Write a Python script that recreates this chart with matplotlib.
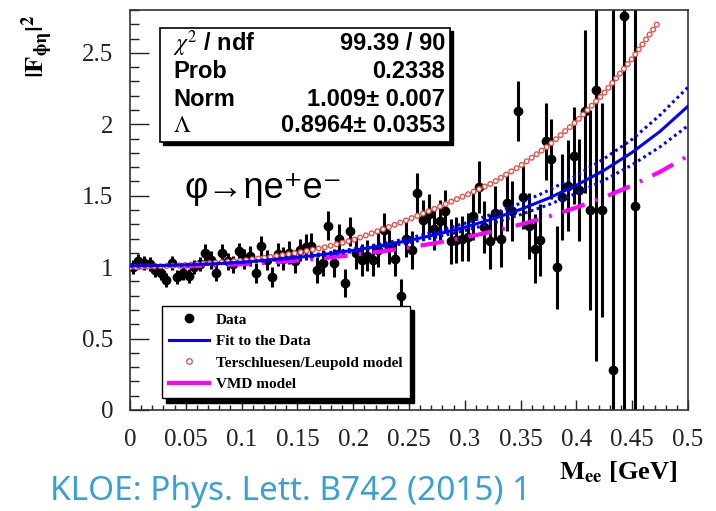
import numpy as np
import matplotlib
matplotlib.use('Agg')
import matplotlib.pyplot as plt
from matplotlib.patches import Rectangle
from matplotlib.lines import Line2D
from matplotlib.ticker import MultipleLocator, FormatStrFormatter

plt.rcParams['mathtext.fontset'] = 'stix'
plt.rcParams['lines.scale_dashes'] = False

# |F_phi-eta|^2 per 5 MeV bin of M_ee (0 - 0.46 GeV), nan = no entry
bin_width = 0.005
ff_data = [1.00, 1.04, 1.03, 1.02, 0.98, 0.96, 0.91, 1.03, 0.93, 0.96,
           0.94, 1.00, 1.02, 1.10, 1.05, 0.96, 1.10, 1.04, 1.02, 1.11,
           1.06, 1.08, 0.96, 1.15, 1.05, 0.93, 1.09, 1.06, 1.10, 1.04,
           1.12, 1.14, 1.15, 0.98, 1.03, 1.29, 1.03, 1.20, 0.89, 1.25,
           1.10, 1.05, 1.08, 1.05, 1.12, 1.26, 1.14, 1.06, 0.80, 1.20,
           1.12, 1.52, 1.33, 1.37, 1.27, 1.32, 1.39, 1.18, 1.19, 1.20,
           1.21, 1.36, 1.56, 1.28, 1.18, 1.38, 1.20, 1.45, 1.39, 2.09,
           1.49, 1.29, 1.13, 1.19, 1.88, 1.76, 1.00, 1.49, 1.57, 1.78,
           1.54, 2.09, 1.40, 2.24, 1.40, np.nan, 0.28, np.nan, 2.76, np.nan,
           1.43, np.nan]
ff_err = [0.05, 0.05, 0.05, 0.05, 0.05, 0.05, 0.05, 0.05, 0.05, 0.05,
          0.05, 0.05, 0.05, 0.06, 0.06, 0.06, 0.06, 0.06, 0.06, 0.06,
          0.07, 0.07, 0.07, 0.07, 0.07, 0.07, 0.08, 0.08, 0.08, 0.08,
          0.08, 0.09, 0.09, 0.09, 0.09, 0.10, 0.10, 0.10, 0.10, 0.10,
          0.11, 0.11, 0.11, 0.11, 0.12, 0.12, 0.12, 0.12, 0.12, 0.13,
          0.13, 0.14, 0.14, 0.14, 0.15, 0.15, 0.15, 0.16, 0.16, 0.16,
          0.17, 0.17, 0.18, 0.18, 0.19, 0.19, 0.20, 0.20, 0.21, 0.21,
          0.22, 0.23, 0.24, 0.25, 0.27, 0.28, 0.29, 0.30, 0.32, 0.34,
          0.36, 0.57, 0.70, 1.90, 0.75, np.nan, 2.60, np.nan, 3.00, np.nan,
          2.00, np.nan]
mee = (np.arange(len(ff_data)) + 0.5) * bin_width

# curves evaluated every 25 MeV
curve_mee = [0.0, 0.025, 0.05, 0.075, 0.1, 0.125, 0.15, 0.175, 0.2, 0.225, 0.25,
             0.275, 0.3, 0.325, 0.35, 0.375, 0.4, 0.425, 0.45, 0.475, 0.5]
fit_ff = [1.009, 1.0106, 1.0153, 1.0233, 1.0346, 1.0494, 1.0680, 1.0905, 1.1175, 1.1493,
          1.1864, 1.2295, 1.2796, 1.3375, 1.4046, 1.4825, 1.5731, 1.6790, 1.8035, 1.9507,
          2.1263]
fit_ff_up = [1.009, 1.0107, 1.0158, 1.0245, 1.0368, 1.0529, 1.0731, 1.0978, 1.1273, 1.1623,
             1.2033, 1.2512, 1.3070, 1.3721, 1.4479, 1.5366, 1.6400, 1.7600, 1.8950, 2.0650,
             2.2600]
fit_ff_dn = [1.009, 1.0105, 1.0148, 1.0222, 1.0327, 1.0463, 1.0634, 1.0841, 1.1088, 1.1378,
             1.1716, 1.2108, 1.2559, 1.3079, 1.3678, 1.4368, 1.5165, 1.6089, 1.7164, 1.8422,
             1.9903]
vmd_ff = [1.0, 1.0013, 1.0050, 1.0114, 1.0203, 1.0320, 1.0466, 1.0642, 1.0851, 1.1095,
          1.1378, 1.1703, 1.2076, 1.2501, 1.2987, 1.3541, 1.4172, 1.4895, 1.5723, 1.6676,
          1.7778]
tl_mee = curve_mee[:-1]
tl_ff = [1.0, 1.005, 1.015, 1.03, 1.045, 1.07, 1.10, 1.14, 1.19, 1.26,
         1.335, 1.415, 1.50, 1.59, 1.71, 1.85, 2.02, 2.22, 2.46, 2.73]

W, H = 716, 511


def fx(px):
    return px / W


def fy(py):
    return 1 - py / H


fig = plt.figure(figsize=(W / 100, H / 100), dpi=100)
ax = fig.add_axes([fx(130), fy(410), 558 / W, 400 / H])

ax.errorbar(mee, ff_data, yerr=ff_err, fmt='o', color='black', ms=6,
            elinewidth=2.2, capsize=0, zorder=2)

ax.plot(curve_mee, vmd_ff, color='#ff00ff', lw=3, ls=(0, (17, 8, 2, 8)), zorder=3)

# open circles of the Terschluesen/Leupold curve as round dots with a white core
ax.plot(tl_mee, tl_ff, color='#e64a45', lw=4.4, ls=(0, (0.01, 4.4)),
        dash_capstyle='round', zorder=3)
ax.plot(tl_mee, tl_ff, color='white', lw=2.5, ls=(0, (0.01, 4.4)),
        dash_capstyle='round', zorder=3)

ax.plot(curve_mee, fit_ff_up, color='#0000ff', lw=2.2, ls=(0, (2, 2.5)), zorder=4)
ax.plot(curve_mee, fit_ff_dn, color='#0000ff', lw=2.2, ls=(0, (2, 2.5)), zorder=4)
ax.plot(curve_mee, fit_ff, color='#0000ff', lw=2.2, zorder=4)

ax.set_xlim(0, 0.5)
ax.set_ylim(0, 2.8)
ax.xaxis.set_major_locator(MultipleLocator(0.05))
ax.xaxis.set_minor_locator(MultipleLocator(0.01))
ax.yaxis.set_major_locator(MultipleLocator(0.5))
ax.yaxis.set_minor_locator(MultipleLocator(0.1))
ax.xaxis.set_major_formatter(FormatStrFormatter('%g'))
ax.yaxis.set_major_formatter(FormatStrFormatter('%g'))
ax.tick_params(direction='in', top=False, right=False, which='both', width=1, color='#222222')
ax.tick_params(axis='x', which='major', length=7.5, pad=14)
ax.tick_params(axis='x', which='minor', length=3.8)
ax.tick_params(axis='y', which='major', length=13.5, pad=12)
ax.tick_params(axis='y', which='minor', length=6.5)
for lab in ax.get_xticklabels() + ax.get_yticklabels():
    lab.set_family('Liberation Serif')
    lab.set_fontsize(18)
    lab.set_color('#222222')
for sp in ax.spines.values():
    sp.set_linewidth(1.2)
    sp.set_color('#333333')

fig.text(fx(37), fy(14), r'$\mathbf{|F_{\phi\eta}|^{2}}$', rotation=90,
         ha='center', va='top', fontsize=19)
fig.text(fx(677), fy(472), r'$\mathbf{M_{ee}}$ [GeV]', ha='right', va='center',
         fontsize=19, fontweight='bold', family='Liberation Serif')

fig.text(fx(185), fy(188), 'φ→ηe⁺e⁻', ha='left', va='center', fontsize=26,
         family=['Liberation Sans', 'DejaVu Sans'])

# fit statistics box
box_l, box_t, box_r, box_b = 160, 28, 450, 142
fig.patches.append(Rectangle((fx(box_l + 3), fy(box_b + 3)), (box_r - box_l) / W,
                             (box_b - box_t) / H, transform=fig.transFigure,
                             facecolor='black', edgecolor='black', zorder=5))
fig.patches.append(Rectangle((fx(box_l), fy(box_b)), (box_r - box_l) / W,
                             (box_b - box_t) / H, transform=fig.transFigure,
                             facecolor='white', edgecolor='black', lw=1.2, zorder=6))
stat_names = [r'$\chi^{2}$ / ndf', 'Prob', 'Norm', r'$\Lambda$']
stat_values = ['99.39 / 90', '0.2338', '1.009± 0.007', '0.8964± 0.0353']
stat_rows = [44, 72, 99, 126]
for name, val, row in zip(stat_names, stat_values, stat_rows):
    fig.text(fx(173), fy(row), name, ha='left', va='center', fontsize=17,
             fontweight='bold', family='Liberation Sans', zorder=7)
    fig.text(fx(445), fy(row), val, ha='right', va='center', fontsize=17,
             fontweight='bold', family='Liberation Sans', zorder=7)

handles = [
    Line2D([], [], marker='o', color='black', ls='none', ms=6),
    Line2D([], [], color='#0000ff', lw=2.2),
    Line2D([], [], marker='o', mfc='none', mec='#e64a45', ls='none', ms=4, mew=0.9),
    Line2D([], [], color='#ff00ff', lw=3),
]
labels = ['Data', 'Fit to the Data', 'Terschluesen/Leupold model', 'VMD model']
leg = ax.legend(handles, labels, loc='upper left',
                bbox_to_anchor=(fx(162), fy(306)), bbox_transform=fig.transFigure,
                prop={'family': 'Liberation Serif', 'weight': 'bold', 'size': 11},
                fancybox=False, framealpha=1, edgecolor='black',
                shadow={'color': 'black', 'alpha': 1, 'ox': 3, 'oy': -3},
                borderpad=0.45, labelspacing=0.52, handlelength=2.6,
                handletextpad=0.5, borderaxespad=0)
leg.get_frame().set_linewidth(1.0)
leg.set_zorder(10)

fig.text(fx(50), fy(492), 'KLOE: Phys. Lett. B742 (2015) 1', ha='left', va='center',
         fontsize=24, color='#3a9fd3', family='Noto Sans')

fig.savefig('out.png', dpi=100)
